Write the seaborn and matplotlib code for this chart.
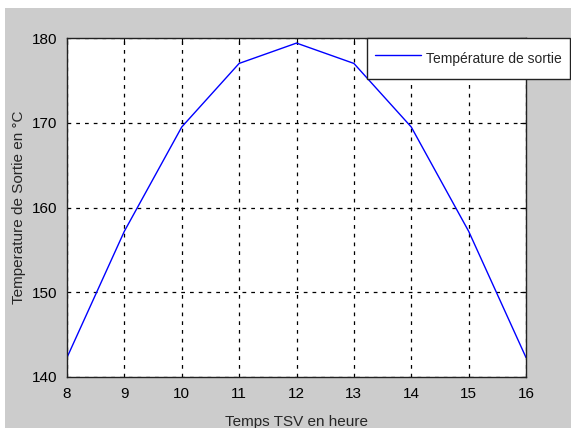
import numpy as np
import pandas as pd
import seaborn as sns
import matplotlib.pyplot as plt
from matplotlib.patches import Rectangle

# Heures (TSV) et température de sortie
heures = [8, 9, 10, 11, 12, 13, 14, 15, 16]
temperature = [142.3, 157.2, 169.5, 177.0, 179.4, 177.0, 169.5, 157.2, 142.3]
legend_label = "Température de sortie"

df = pd.DataFrame({"heure": heures, "temp": temperature})

sns.set_style("white")
plt.rcParams['font.family'] = ['Liberation Sans', 'DejaVu Sans']

fig = plt.figure(figsize=(5.71, 4.28), dpi=100, facecolor='white')
# fond gris style MATLAB (petite marge blanche en haut/gauche)
fig.patches.append(Rectangle((5 / 571, 0), 1, 1 - 8 / 428, transform=fig.transFigure,
                             facecolor='#cccccc', edgecolor='none', zorder=-10))

ax = fig.add_axes([67 / 571, 1 - 377 / 428, (526 - 67) / 571, (377 - 38) / 428])
ax.set_facecolor('white')

sns.lineplot(data=df, x="heure", y="temp", color='#0000ff', linewidth=1.0,
             label=legend_label, ax=ax)

ax.set_xlim(8, 16)
ax.set_ylim(140, 180)
ax.set_xticks(range(8, 17))
ax.set_yticks(range(140, 181, 10))
ax.grid(True, color='black', linestyle=(0, (3, 4)), linewidth=0.9)
ax.tick_params(direction='in', length=4, top=True, right=True, labelsize=11,
               colors='black', pad=7)
for s in ax.spines.values():
    s.set_color('#222222')
    s.set_linewidth(1.0)

ax.set_xlabel("Temps TSV en heure", fontsize=11, labelpad=10)
ax.set_ylabel("Temperature de Sortie en °C", fontsize=11, labelpad=4)

leg = ax.legend(loc='upper left', bbox_to_anchor=(367 / 571, 1 - 38 / 428, 0.5, 0.0),
                bbox_transform=fig.transFigure, fancybox=False, shadow=False,
                framealpha=1, edgecolor='#222222', fontsize=10, handlelength=3.3,
                handleheight=2.3, borderpad=0.6, handletextpad=0.35, borderaxespad=0)
leg.get_frame().set_linewidth(1.0)

fig.savefig("out.png", dpi=100)
